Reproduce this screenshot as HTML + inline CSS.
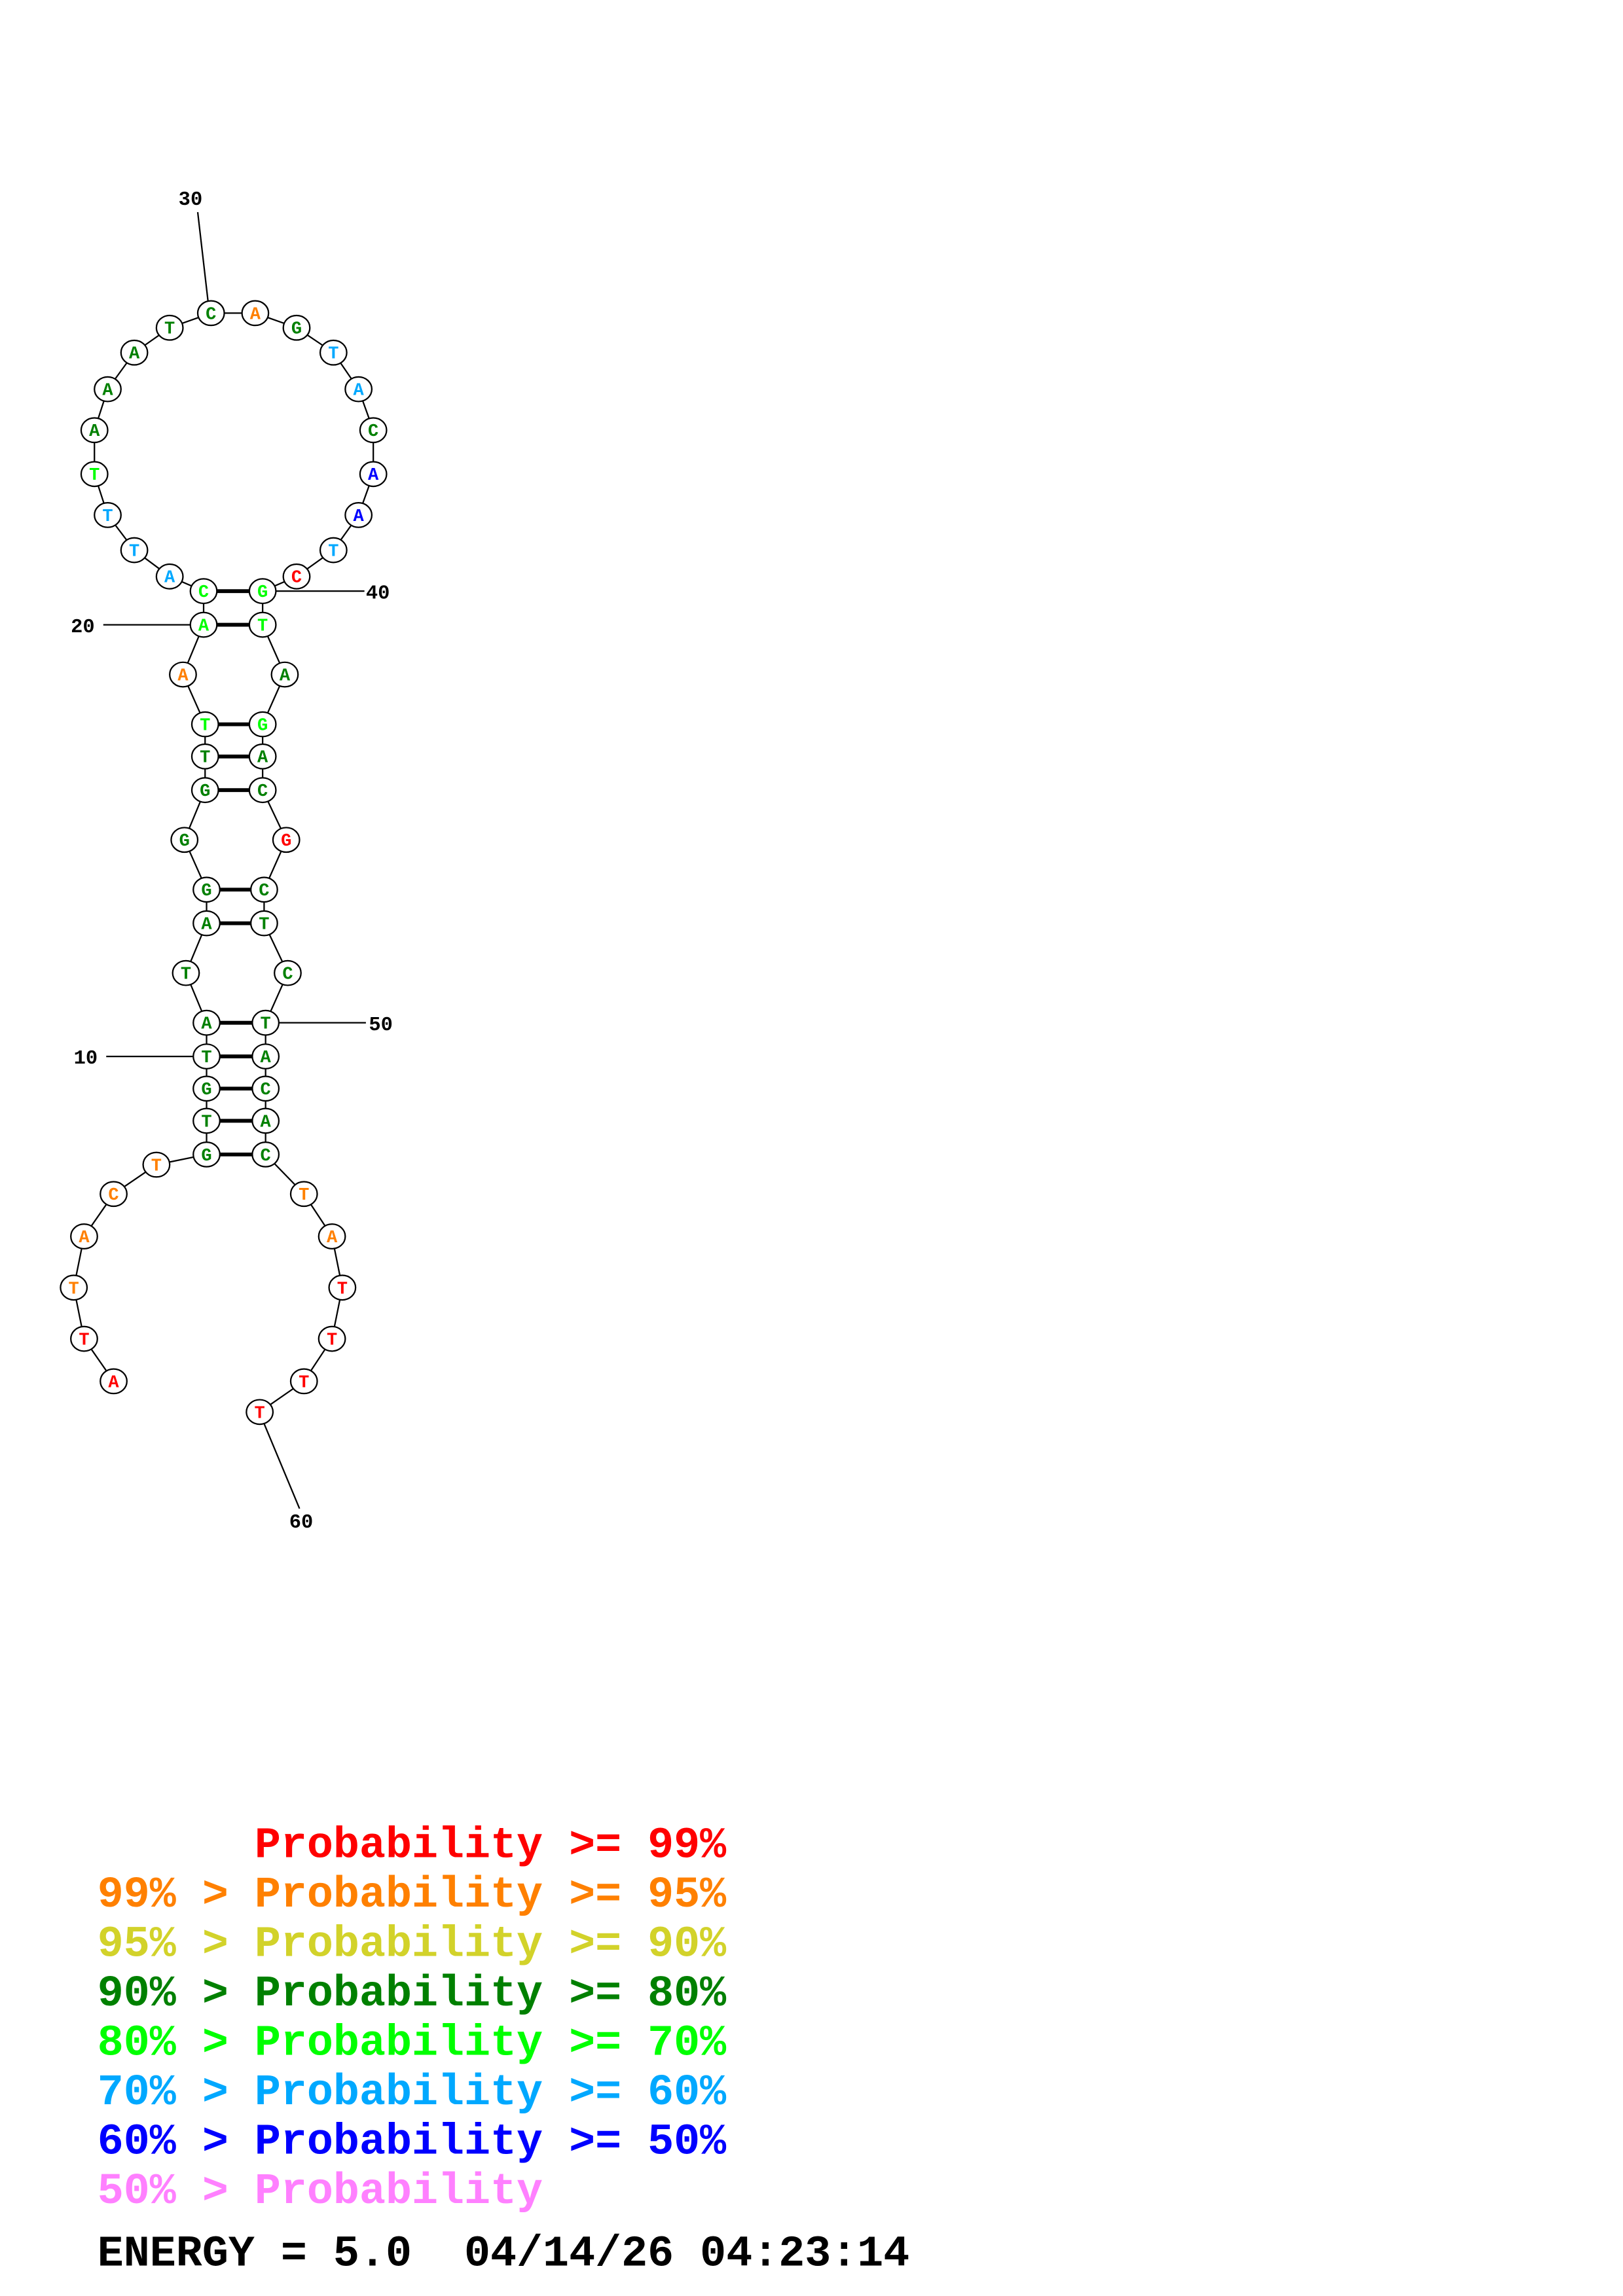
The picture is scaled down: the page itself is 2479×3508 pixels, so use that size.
<!DOCTYPE html>
<html><head><meta charset="utf-8"><style>
html,body{margin:0;padding:0;background:#fff;}
svg{display:block;}
text{font-family:"Liberation Mono",monospace;font-weight:bold;white-space:pre;}
.n ellipse{fill:#fff;stroke:#000;stroke-width:1;}
.n text{font-size:12px;text-anchor:middle;}
.R{fill:#ff0000}.O{fill:#ff8000}.D{fill:#008000}.B{fill:#00ff00}.S{fill:#00a8ff}.U{fill:#0000ff}
</style></head><body>
<svg width="2479" height="3508" viewBox="0 0 1100 1556.6" xmlns="http://www.w3.org/2000/svg">
<rect width="1100" height="1557" fill="#fff"/>
<g transform="translate(0,-1) scale(1,0.992)">
<polyline fill="none" stroke="#000" stroke-width="1" points="77,945 57,916 50,881 57,846 77,817 106,797 140,790 140,767 140,745 140,723 140,700 126,666 140,632 140,609 125,575 139,541 139,518 139,496 124,462 138,428 138,405 115,395 91,377 73,353 64,325 64,295 73,267 91,242 115,225 143,215 173,215 201,225 226,242 243,267 253,295 253,325 243,353 226,377 201,395 178,405 178,428 193,462 178,496 178,518 178,541 194,575 179,609 179,632 195,666 180,700 180,723 180,745 180,767 180,790 206,817 225,846 232,881 225,916 206,945 176,966"/>
<g stroke="#000" stroke-width="2.6">
<line x1="140" y1="790" x2="180" y2="790"/>
<line x1="140" y1="767" x2="180" y2="767"/>
<line x1="140" y1="745" x2="180" y2="745"/>
<line x1="140" y1="723" x2="180" y2="723"/>
<line x1="140" y1="700" x2="180" y2="700"/>
<line x1="140" y1="632" x2="179" y2="632"/>
<line x1="140" y1="609" x2="179" y2="609"/>
<line x1="139" y1="541" x2="178" y2="541"/>
<line x1="139" y1="518" x2="178" y2="518"/>
<line x1="139" y1="496" x2="178" y2="496"/>
<line x1="138" y1="428" x2="178" y2="428"/>
<line x1="138" y1="405" x2="178" y2="405"/>
</g>
<g stroke="#000" stroke-width="1">
<line x1="134" y1="146" x2="141" y2="207"/>
<line x1="187" y1="405" x2="247" y2="405"/>
<line x1="70" y1="428" x2="129" y2="428"/>
<line x1="189" y1="700" x2="248" y2="700"/>
<line x1="72" y1="723" x2="131" y2="723"/>
<line x1="179" y1="974" x2="203" y2="1032"/>
</g>
<g font-size="13.5" fill="#000">
<text x="121" y="141">30</text>
<text x="248" y="410">40</text>
<text x="48" y="433">20</text>
<text x="250" y="705">50</text>
<text x="50" y="728">10</text>
<text x="196" y="1045">60</text>
</g>
<g class="n">
<ellipse cx="77" cy="945" rx="9" ry="8.4"/><text x="77" y="949" class="R">A</text>
<ellipse cx="57" cy="916" rx="9" ry="8.4"/><text x="57" y="920" class="R">T</text>
<ellipse cx="50" cy="881" rx="9" ry="8.4"/><text x="50" y="885" class="O">T</text>
<ellipse cx="57" cy="846" rx="9" ry="8.4"/><text x="57" y="850" class="O">A</text>
<ellipse cx="77" cy="817" rx="9" ry="8.4"/><text x="77" y="821" class="O">C</text>
<ellipse cx="106" cy="797" rx="9" ry="8.4"/><text x="106" y="801" class="O">T</text>
<ellipse cx="140" cy="790" rx="9" ry="8.4"/><text x="140" y="794" class="D">G</text>
<ellipse cx="140" cy="767" rx="9" ry="8.4"/><text x="140" y="771" class="D">T</text>
<ellipse cx="140" cy="745" rx="9" ry="8.4"/><text x="140" y="749" class="D">G</text>
<ellipse cx="140" cy="723" rx="9" ry="8.4"/><text x="140" y="727" class="D">T</text>
<ellipse cx="140" cy="700" rx="9" ry="8.4"/><text x="140" y="704" class="D">A</text>
<ellipse cx="126" cy="666" rx="9" ry="8.4"/><text x="126" y="670" class="D">T</text>
<ellipse cx="140" cy="632" rx="9" ry="8.4"/><text x="140" y="636" class="D">A</text>
<ellipse cx="140" cy="609" rx="9" ry="8.4"/><text x="140" y="613" class="D">G</text>
<ellipse cx="125" cy="575" rx="9" ry="8.4"/><text x="125" y="579" class="D">G</text>
<ellipse cx="139" cy="541" rx="9" ry="8.4"/><text x="139" y="545" class="D">G</text>
<ellipse cx="139" cy="518" rx="9" ry="8.4"/><text x="139" y="522" class="D">T</text>
<ellipse cx="139" cy="496" rx="9" ry="8.4"/><text x="139" y="500" class="B">T</text>
<ellipse cx="124" cy="462" rx="9" ry="8.4"/><text x="124" y="466" class="O">A</text>
<ellipse cx="138" cy="428" rx="9" ry="8.4"/><text x="138" y="432" class="B">A</text>
<ellipse cx="138" cy="405" rx="9" ry="8.4"/><text x="138" y="409" class="B">C</text>
<ellipse cx="115" cy="395" rx="9" ry="8.4"/><text x="115" y="399" class="S">A</text>
<ellipse cx="91" cy="377" rx="9" ry="8.4"/><text x="91" y="381" class="S">T</text>
<ellipse cx="73" cy="353" rx="9" ry="8.4"/><text x="73" y="357" class="S">T</text>
<ellipse cx="64" cy="325" rx="9" ry="8.4"/><text x="64" y="329" class="B">T</text>
<ellipse cx="64" cy="295" rx="9" ry="8.4"/><text x="64" y="299" class="D">A</text>
<ellipse cx="73" cy="267" rx="9" ry="8.4"/><text x="73" y="271" class="D">A</text>
<ellipse cx="91" cy="242" rx="9" ry="8.4"/><text x="91" y="246" class="D">A</text>
<ellipse cx="115" cy="225" rx="9" ry="8.4"/><text x="115" y="229" class="D">T</text>
<ellipse cx="143" cy="215" rx="9" ry="8.4"/><text x="143" y="219" class="D">C</text>
<ellipse cx="173" cy="215" rx="9" ry="8.4"/><text x="173" y="219" class="O">A</text>
<ellipse cx="201" cy="225" rx="9" ry="8.4"/><text x="201" y="229" class="D">G</text>
<ellipse cx="226" cy="242" rx="9" ry="8.4"/><text x="226" y="246" class="S">T</text>
<ellipse cx="243" cy="267" rx="9" ry="8.4"/><text x="243" y="271" class="S">A</text>
<ellipse cx="253" cy="295" rx="9" ry="8.4"/><text x="253" y="299" class="D">C</text>
<ellipse cx="253" cy="325" rx="9" ry="8.4"/><text x="253" y="329" class="U">A</text>
<ellipse cx="243" cy="353" rx="9" ry="8.4"/><text x="243" y="357" class="U">A</text>
<ellipse cx="226" cy="377" rx="9" ry="8.4"/><text x="226" y="381" class="S">T</text>
<ellipse cx="201" cy="395" rx="9" ry="8.4"/><text x="201" y="399" class="R">C</text>
<ellipse cx="178" cy="405" rx="9" ry="8.4"/><text x="178" y="409" class="B">G</text>
<ellipse cx="178" cy="428" rx="9" ry="8.4"/><text x="178" y="432" class="B">T</text>
<ellipse cx="193" cy="462" rx="9" ry="8.4"/><text x="193" y="466" class="D">A</text>
<ellipse cx="178" cy="496" rx="9" ry="8.4"/><text x="178" y="500" class="B">G</text>
<ellipse cx="178" cy="518" rx="9" ry="8.4"/><text x="178" y="522" class="D">A</text>
<ellipse cx="178" cy="541" rx="9" ry="8.4"/><text x="178" y="545" class="D">C</text>
<ellipse cx="194" cy="575" rx="9" ry="8.4"/><text x="194" y="579" class="R">G</text>
<ellipse cx="179" cy="609" rx="9" ry="8.4"/><text x="179" y="613" class="D">C</text>
<ellipse cx="179" cy="632" rx="9" ry="8.4"/><text x="179" y="636" class="D">T</text>
<ellipse cx="195" cy="666" rx="9" ry="8.4"/><text x="195" y="670" class="D">C</text>
<ellipse cx="180" cy="700" rx="9" ry="8.4"/><text x="180" y="704" class="D">T</text>
<ellipse cx="180" cy="723" rx="9" ry="8.4"/><text x="180" y="727" class="D">A</text>
<ellipse cx="180" cy="745" rx="9" ry="8.4"/><text x="180" y="749" class="D">C</text>
<ellipse cx="180" cy="767" rx="9" ry="8.4"/><text x="180" y="771" class="D">A</text>
<ellipse cx="180" cy="790" rx="9" ry="8.4"/><text x="180" y="794" class="D">C</text>
<ellipse cx="206" cy="817" rx="9" ry="8.4"/><text x="206" y="821" class="O">T</text>
<ellipse cx="225" cy="846" rx="9" ry="8.4"/><text x="225" y="850" class="O">A</text>
<ellipse cx="232" cy="881" rx="9" ry="8.4"/><text x="232" y="885" class="R">T</text>
<ellipse cx="225" cy="916" rx="9" ry="8.4"/><text x="225" y="920" class="R">T</text>
<ellipse cx="206" cy="945" rx="9" ry="8.4"/><text x="206" y="949" class="R">T</text>
<ellipse cx="176" cy="966" rx="9" ry="8.4"/><text x="176" y="970" class="R">T</text>
</g>
</g>
<g font-size="29.6">
<text x="66" y="1259" fill="#ff0000">      Probability &gt;= 99%</text>
<text x="66" y="1292.5" fill="#ff8000">99% &gt; Probability &gt;= 95%</text>
<text x="66" y="1326" fill="#d2d22a">95% &gt; Probability &gt;= 90%</text>
<text x="66" y="1359.5" fill="#008000">90% &gt; Probability &gt;= 80%</text>
<text x="66" y="1393" fill="#00ff00">80% &gt; Probability &gt;= 70%</text>
<text x="66" y="1426.5" fill="#00a8ff">70% &gt; Probability &gt;= 60%</text>
<text x="66" y="1460" fill="#0000ff">60% &gt; Probability &gt;= 50%</text>
<text x="66" y="1493.5" fill="#ff80ff">50% &gt; Probability</text>
<text x="66" y="1536" fill="#000">ENERGY = 5.0  04/14/26 04:23:14</text>
</g>
</svg>
</body></html>
